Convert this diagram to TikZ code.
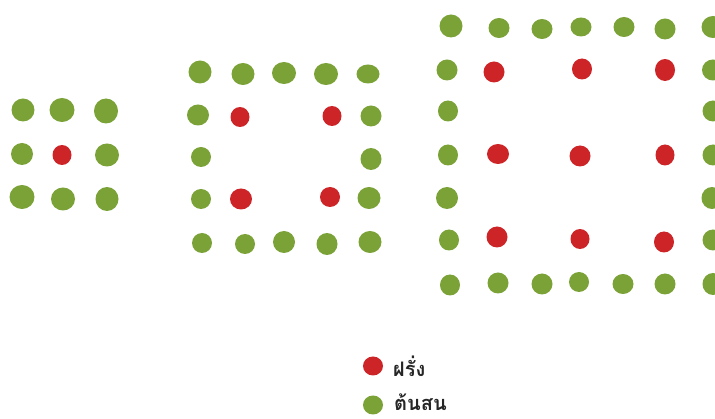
\documentclass[tikz,border=0pt]{standalone}
\usepackage{fontspec}
\newfontfamily\thaifont[Script=Thai]{Loma}
\usetikzlibrary{shapes.geometric}
\definecolor{pine}{HTML}{7AA237}
\definecolor{guava}{HTML}{CC2427}
\tikzset{
  gdot/.style={ellipse,fill=pine,draw=none,inner sep=0pt},
  rdot/.style={ellipse,fill=guava,draw=none,inner sep=0pt},
  legtext/.style={anchor=base west,inner sep=0pt,text depth=0pt,font=\thaifont\bfseries\fontsize{20pt}{23pt}\selectfont,text=black!85}
}
\begin{document}
\begin{tikzpicture}[x=1pt,y=-1pt]
\useasboundingbox (0,0) rectangle (715,419);
\clip (0,0) rectangle (715,419);
% left grid
\foreach \n/\x/\y/\w/\h in {
 a1/23/110/23/23, a2/62/110/25/24, a3/106/111/24/25,
 a4/22/154/22/22, a6/107/155/24/23,
 a7/22/197/25/24, a8/63/199/24/23, a9/107/199/23/24}
  \node[gdot,minimum width=\w,minimum height=\h] (\n) at (\x,\y) {};
\node[rdot,minimum width=19,minimum height=20] (a5) at (62,155) {};
% middle grid
\foreach \n/\x/\y/\w/\h in {
 b1/200/72/23/23, b2/243/74/23/22, b3/284/73/24/22, b4/326/74/24/22, b5/368/74/23/19,
 b6/198/115/22/21, b7/371/116/21/21,
 b8/201/157/20/20, b9/371/159/21/22,
 b10/201/199/20/20, b11/369/198/23/22,
 b12/202/243/20/20, b13/245/244/20/20, b14/284/242/22/22, b15/327/244/21/22, b16/370/242/23/22}
  \node[gdot,minimum width=\w,minimum height=\h] (\n) at (\x,\y) {};
\foreach \n/\x/\y/\w/\h in {
 br1/240/117/19/20, br2/332/116/19/20, br3/241/199/22/21, br4/330/197/20/20}
  \node[rdot,minimum width=\w,minimum height=\h] (\n) at (\x,\y) {};
% right grid
\foreach \n/\x/\y/\w/\h in {
 c1/451/26/23/23, c2/499/28/21/20, c3/542/29/21/20, c4/581/27/21/19, c5/624/27/21/20, c6/665/29/21/21, c7/713/27/23/22,
 c8/447/70/21/21, c9/713/70/22/21,
 c10/448/111/20/21, c11/713/111/21/21,
 c12/448/155/20/21, c13/713/155/21/21,
 c14/447/198/22/22, c15/712/198/21/22,
 c16/449/240/20/21, c17/713/240/21/21,
 c18/450/285/20/21, c19/498/283/21/21, c20/542/284/21/21, c21/579/282/20/20, c22/623/284/21/20, c23/665/284/21/21, c24/713/284/21/22}
  \node[gdot,minimum width=\w,minimum height=\h] (\n) at (\x,\y) {};
\foreach \n/\x/\y/\w/\h in {
 cr1/494/72/21/21, cr2/582/69/20/21, cr3/665/70/20/22,
 cr4/498/154/22/20, cr5/580/156/21/21, cr6/665/155/19/21,
 cr7/497/237/21/21, cr8/580/239/19/20, cr9/664/242/20/21}
  \node[rdot,minimum width=\w,minimum height=\h] (\n) at (\x,\y) {};
% legend
\node[rdot,minimum width=20,minimum height=19] (lr) at (373,366) {};
\node[legtext] (lrt) at (393,377) {ฝรั่ง};
\node[gdot,minimum width=20,minimum height=19] (lg) at (373,405) {};
\node[legtext] (lgt) at (394,410) {ต้นสน};
\end{tikzpicture}
\end{document}
